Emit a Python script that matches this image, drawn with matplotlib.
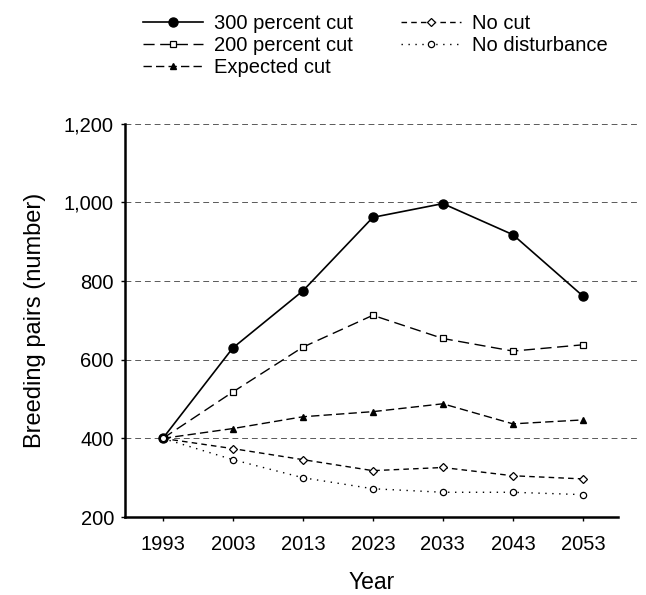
"""
Breeding pairs projection under different cutting scenarios.
"""
import matplotlib
matplotlib.use("Agg")
import matplotlib.pyplot as plt

years = [1993, 2003, 2013, 2023, 2033, 2043, 2053]
cut_300 = [400, 630, 775, 962, 997, 918, 762]
cut_200 = [400, 518, 632, 713, 654, 622, 638]
expected_cut = [400, 425, 455, 468, 488, 437, 447]
no_cut = [400, 374, 346, 318, 326, 305, 297]
no_disturbance = [400, 346, 300, 272, 263, 263, 257]

y_ticks = [200, 400, 600, 800, 1000, 1200]
y_tick_labels = ["200", "400", "600", "800", "1,000", "1,200"]


def main():
    plt.rcParams["font.family"] = ["Liberation Sans", "DejaVu Sans"]
    fig = plt.figure(figsize=(6.46, 5.95), dpi=100)
    ax = fig.add_axes([0.1935, 0.131, 0.763, 0.661])

    # gridlines drawn a bit past the right edge, like the printed figure
    for v in y_ticks[1:]:
        ax.axhline(v, xmin=0, xmax=1.045, color="0.35", lw=0.7,
                   ls=(0, (6, 4)), clip_on=False, zorder=1)

    ax.plot(years, cut_300, color="black", lw=1.2, ls="-", marker="o",
            ms=6.5, mfc="black", label="300 percent cut", zorder=3)
    ax.plot(years, cut_200, color="black", lw=1.0, ls=(0, (8, 4)), marker="s",
            ms=4, mfc="white", mew=0.9, label="200 percent cut", zorder=3)
    ax.plot(years, expected_cut, color="black", lw=1.0, ls=(0, (6, 3)), marker="^",
            ms=4.5, mfc="black", label="Expected cut", zorder=3)
    ax.plot(years, no_cut, color="black", lw=1.0, ls=(0, (4, 3)), marker="D",
            ms=4, mfc="white", mew=0.9, label="No cut", zorder=3)
    ax.plot(years, no_disturbance, color="black", lw=1.0, ls=(0, (1, 4)), marker="o",
            ms=4.5, mfc="white", mew=0.9, label="No disturbance", zorder=3)

    ax.set_xlim(1987.6, 2058)
    ax.set_ylim(200, 1200)
    ax.set_xticks(years)
    ax.set_yticks(y_ticks)
    ax.set_yticklabels(y_tick_labels)
    ax.tick_params(axis="both", labelsize=14.5, length=3, width=1, direction="out")
    ax.tick_params(axis="x", pad=10)
    ax.tick_params(axis="y", pad=5)

    for side in ("top", "right"):
        ax.spines[side].set_visible(False)
    for side in ("left", "bottom"):
        ax.spines[side].set_linewidth(1.8)

    ax.set_ylabel("Breeding pairs (number)", fontsize=17, labelpad=13)
    ax.set_xlabel("Year", fontsize=16.5, labelpad=12)

    fig.legend(loc="upper left", bbox_to_anchor=(0.2, 1.0), ncol=2,
               frameon=False, fontsize=14.5, handlelength=2.95, handletextpad=0.55,
               labelspacing=0.15, columnspacing=2.4, numpoints=1,
               borderaxespad=0.3)

    fig.savefig("out.png", dpi=100)


if __name__ == "__main__":
    main()
